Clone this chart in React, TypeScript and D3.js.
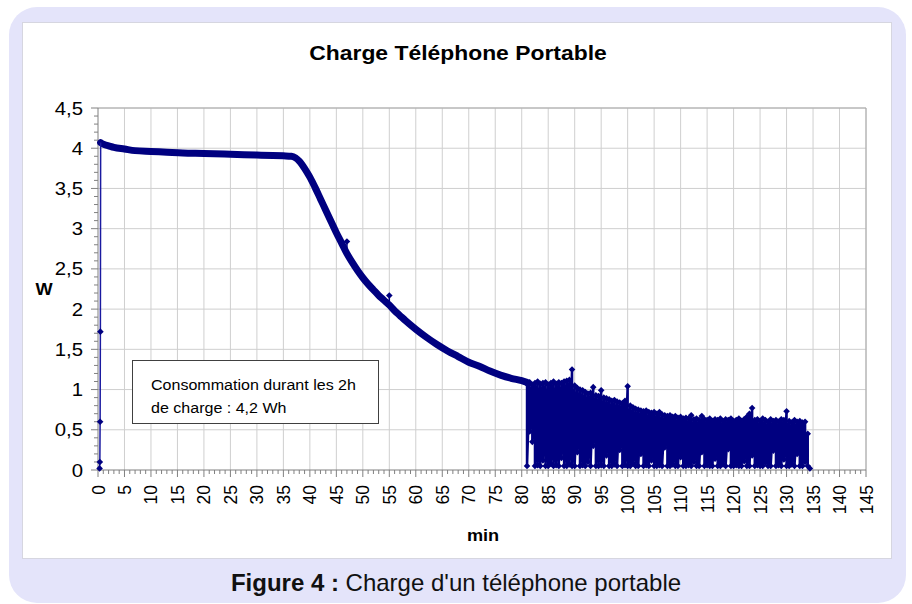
import React from "react";
import * as d3 from "d3";

// power drawn while charging a mobile phone (W vs minutes)
const startMin = [0.3, 0.35, 0.4, 0.45, 0.5];
const startW = [0.02, 0.1, 0.6, 1.72, 4.07];

const chargeMin = [0.5, 1, 2, 3, 5, 7, 10, 13, 16, 20, 25, 30, 33, 35, 36.5, 37.3, 38, 39, 40, 41,
  42, 43, 44, 45, 46, 47, 48, 49, 50, 51, 52, 53, 54, 55, 56, 57, 58, 60, 62, 64,
  66, 68, 70, 72, 74, 76, 78, 80, 81];
const chargeW = [4.07, 4.05, 4.03, 4.01, 3.99, 3.97, 3.96, 3.95, 3.94, 3.935, 3.925, 3.915, 3.91, 3.905, 3.9, 3.88, 3.84, 3.75, 3.64, 3.51,
  3.37, 3.23, 3.09, 2.95, 2.82, 2.69, 2.58, 2.48, 2.39, 2.31, 2.24, 2.17, 2.11, 2.05, 1.98, 1.92, 1.86, 1.75, 1.65, 1.56,
  1.48, 1.41, 1.34, 1.29, 1.23, 1.18, 1.14, 1.11, 1.09];

const spikeMin = [47, 55];
const spikeBase = [2.69, 2.05];
const spikeTop = [2.84, 2.17];

// end of charge: the charger switches on and off, sampled every half minute from 81 min
const noiseStart = 81;
const noiseStep = 0.5;
const noiseHigh = [
  1.07, 1.09, 1.06, 1.08, 1.10, 1.07, 1.08, 1.09, 1.06, 1.08,
  1.10, 1.07, 1.09, 1.08, 1.10, 1.11, 1.12, 1.25, 1.05, 1.02,
  1.00, 0.99, 0.97, 0.95, 0.96, 1.03, 0.93, 0.92, 0.99, 0.90,
  0.89, 0.88, 0.86, 0.87, 0.85, 0.84, 0.83, 0.86, 1.04, 0.80,
  0.78, 0.76, 0.75, 0.74, 0.73, 0.74, 0.72, 0.71, 0.72, 0.70,
  0.72, 0.69, 0.68, 0.67, 0.68, 0.66, 0.67, 0.65, 0.66, 0.64,
  0.65, 0.64, 0.68, 0.63, 0.64, 0.62, 0.67, 0.63, 0.62, 0.64,
  0.61, 0.63, 0.62, 0.64, 0.61, 0.63, 0.62, 0.64, 0.61, 0.62,
  0.64, 0.61, 0.63, 0.66, 0.70, 0.77, 0.62, 0.63, 0.61, 0.64,
  0.62, 0.60, 0.63, 0.61, 0.62, 0.60, 0.63, 0.62, 0.73, 0.61,
  0.59, 0.62, 0.60, 0.61, 0.59, 0.60, 0.45,
];
const noiseLow = [
  0.05, 0.48, 0.35, 0.05, 0.06, 0.05, 0.12, 0.05, 0.05, 0.08,
  0.05, 0.06, 0.05, 0.15, 0.05, 0.05, 0.07, 0.05, 0.05, 0.22,
  0.05, 0.06, 0.05, 0.10, 0.05, 0.30, 0.05, 0.05, 0.06, 0.05,
  0.18, 0.05, 0.05, 0.07, 0.05, 0.25, 0.05, 0.06, 0.05, 0.05,
  0.08, 0.05, 0.05, 0.20, 0.05, 0.06, 0.05, 0.12, 0.05, 0.05,
  0.06, 0.05, 0.28, 0.05, 0.05, 0.07, 0.05, 0.05, 0.16, 0.05,
  0.05, 0.06, 0.05, 0.10, 0.05, 0.05, 0.22, 0.05, 0.06, 0.05,
  0.05, 0.14, 0.05, 0.05, 0.07, 0.05, 0.26, 0.05, 0.05, 0.06,
  0.05, 0.05, 0.11, 0.05, 0.05, 0.18, 0.05, 0.06, 0.05, 0.05,
  0.09, 0.05, 0.05, 0.24, 0.05, 0.06, 0.05, 0.13, 0.05, 0.05,
  0.07, 0.05, 0.20, 0.05, 0.05, 0.10, 0.05,
];
const endMin = [134.4];
const endW = [0.02];

const xTickValues = [0, 5, 10, 15, 20, 25, 30, 35, 40, 45, 50, 55, 60, 65, 70, 75, 80, 85, 90, 95, 100, 105, 110, 115, 120, 125, 130, 135, 140, 145];
const yTickValues = [0, 0.5, 1, 1.5, 2, 2.5, 3, 3.5, 4, 4.5];

const navy = "#000080";
const font = "Arial, 'Liberation Sans', Helvetica, sans-serif";
const diamond = "M0,-3.3L3.3,0L0,3.3L-3.3,0Z";

export default function App() {
  const x = d3.scaleLinear().domain([0, 145]).range([98, 866]);
  const y = d3.scaleLinear().domain([0, 4.5]).range([470, 108]);

  const smoothLine = d3.line<[number, number]>()
    .x((d) => x(d[0]))
    .y((d) => y(d[1]))
    .curve(d3.curveMonotoneX);
  const rawLine = d3.line<[number, number]>()
    .x((d) => x(d[0]))
    .y((d) => y(d[1]));

  const startPts: [number, number][] = startMin.map((t, i) => [t, startW[i]]);
  const chargePts: [number, number][] = chargeMin.map((t, i) => [t, chargeW[i]]);

  const noisePts: [number, number][] = [];
  noiseHigh.forEach((h, i) => {
    const t = noiseStart + i * noiseStep;
    noisePts.push([t, h]);
    noisePts.push([t, noiseLow[i]]);
  });
  endMin.forEach((t, i) => noisePts.push([t, endW[i]]));

  const minorX = d3.range(0, 146, 1);
  const minorY = d3.range(0, 46, 1).map((v) => v / 10);
  const fmt = (v: number) => String(v).replace(".", ",");

  return (
    <svg width={912} height={604} style={{ position: "absolute", left: 0, top: 0 }} fontFamily={font}>
      <rect x={9} y={7} width={897} height={596} rx={28} fill="#e4e4fa" />
      <rect x={22.5} y={22.5} width={869} height={536} fill="#fff" stroke="#d6d6e0" />

      <text transform="translate(458,60) scale(1.09,1)" textAnchor="middle" fontWeight="bold" fontSize={21}>
        Charge Téléphone Portable
      </text>

      {/* grid */}
      <g stroke="#cfcfcf" strokeWidth={1}>
        {xTickValues.slice(1).map((v) => (
          <line key={"gx" + v} x1={x(v)} x2={x(v)} y1={y(4.5)} y2={y(0)} />
        ))}
        {yTickValues.slice(1).map((v) => (
          <line key={"gy" + v} x1={x(0)} x2={x(145)} y1={y(v)} y2={y(v)} />
        ))}
      </g>
      <path d={`M${x(0)},${y(4.5)}H${x(145)}V${y(0)}`} fill="none" stroke="#a8a8a8" />
      <path d={`M${x(0)},${y(4.5)}V${y(0)}H${x(145)}`} fill="none" stroke="#808080" />

      {/* ticks */}
      <g stroke="#808080">
        {minorY.map((v, i) => (
          <line key={"ty" + i} x1={x(0) - (i % 5 === 0 ? 7 : 4)} x2={x(0)} y1={y(v)} y2={y(v)} />
        ))}
        {minorX.map((v) => (
          <line key={"tx" + v} x1={x(v)} x2={x(v)} y1={y(0)} y2={y(0) + (v % 5 === 0 ? 7 : 4)} />
        ))}
      </g>
      <g fontSize={18} fill="#000">
        {yTickValues.map((v) => (
          <text key={"ly" + v} transform={`translate(83,${y(v) + 6.5}) scale(1.13,1)`} textAnchor="end">
            {fmt(v)}
          </text>
        ))}
      </g>
      <g fontSize={17.5} fill="#000">
        {xTickValues.map((v) => (
          <text key={"lx" + v} transform={`translate(${x(v) + 6.5},485) rotate(-90)`} textAnchor="end">
            {v}
          </text>
        ))}
      </g>
      <text transform="translate(44,295) scale(1.1,1)" textAnchor="middle" fontWeight="bold" fontSize={16.5}>W</text>
      <text transform="translate(483,541) scale(1.1,1)" textAnchor="middle" fontWeight="bold" fontSize={16.5}>min</text>

      {/* series */}
      <path d={rawLine(noisePts) ?? ""} fill="none" stroke={navy} strokeWidth={2.5} strokeLinejoin="round" />
      <g fill={navy}>
        {noisePts.map((p, i) => (
          <path key={"m" + i} d={diamond} transform={`translate(${x(p[0])},${y(p[1])})`} />
        ))}
      </g>
      <path d={smoothLine(chargePts) ?? ""} fill="none" stroke={navy} strokeWidth={7} strokeLinejoin="round" strokeLinecap="round" />
      <path d={rawLine(startPts) ?? ""} fill="none" stroke="#1a1aa0" strokeWidth={1.5} />
      <g fill={navy}>
        {startPts.slice(0, 4).map((p, i) => (
          <path key={"s" + i} d={diamond} transform={`translate(${x(p[0])},${y(p[1])})`} />
        ))}
      </g>
      {spikeMin.map((t, i) => (
        <g key={"sp" + i}>
          <line x1={x(t)} x2={x(t)} y1={y(spikeBase[i])} y2={y(spikeTop[i])} stroke={navy} strokeWidth={1.5} />
          <path d={diamond} fill={navy} transform={`translate(${x(t)},${y(spikeTop[i])})`} />
        </g>
      ))}

      {/* annotation */}
      <rect x={132.5} y={360.5} width={246} height={63} fill="#fff" stroke="#404040" />
      <g fontSize={15}>
        <text transform="translate(151,390) scale(1.07,1)">Consommation durant les 2h</text>
        <text transform="translate(151,413) scale(1.07,1)">de charge : 4,2 Wh</text>
      </g>

      <text x={456} y={591} textAnchor="middle" fontSize={24} fill="#111">
        <tspan fontWeight="bold">Figure 4 :</tspan> Charge d'un téléphone portable
      </text>
    </svg>
  );
}
